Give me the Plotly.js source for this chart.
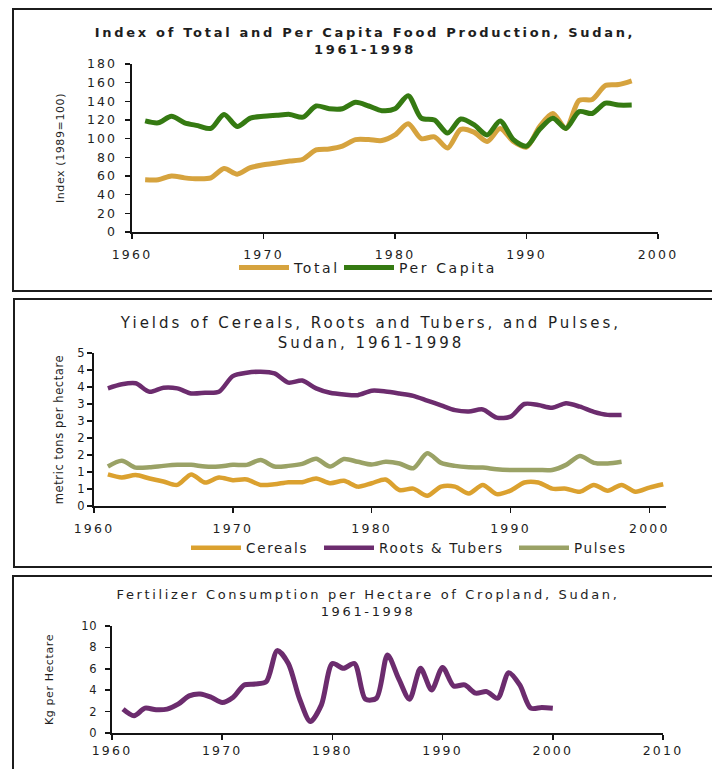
<!DOCTYPE html>
<html>
<head>
<meta charset="utf-8">
<script src="https://cdn.plot.ly/plotly-3.0.1.min.js"></script>
<style>
  html, body { margin:0; padding:0; background:#fff; width:712px; height:769px; overflow:hidden; }
  .frame { position:absolute; border:2px solid #1c1c1c; box-sizing:border-box; }
  .plot { position:absolute; left:0; width:712px; }
  #p1 .gtitle { letter-spacing:2.7px; }
  #p2 .gtitle { letter-spacing:3.0px; }
  #p3 .gtitle { letter-spacing:2.65px; }
  .xtick text { letter-spacing:2.2px; }
  #p1 .ytick text { letter-spacing:2.0px; }
  #p2 .ytick text, #p3 .ytick text { letter-spacing:0.6px; }
  #p1 [class^="legend"] text { letter-spacing:2.6px !important; }
  #p2 [class^="legend"] text { letter-spacing:1.7px !important; }
  [class^="legend"], [class^="legend"] .scrollbox { clip-path:none !important; }
  .ytitle { letter-spacing:0.6px; }
</style>
</head>
<body>
<div class="frame" style="left:12px; top:8px; width:720px; height:284px;"></div>
<div class="frame" style="left:13px; top:298px; width:720px; height:270px;"></div>
<div class="frame" style="left:12px; top:575px; width:720px; height:230px;"></div>
<div id="p1" class="plot" style="top:0px; height:295px;"></div>
<div id="p2" class="plot" style="top:296px; height:300px;"></div>
<div id="p3" class="plot" style="top:573px; height:196px;"></div>
<script>
// ---- Panel 1: Index of total and per capita food production ----
const years1 = [1961,1962,1963,1964,1965,1966,1967,1968,1969,1970,1971,1972,1973,1974,1975,1976,1977,1978,1979,1980,1981,1982,1983,1984,1985,1986,1987,1988,1989,1990,1991,1992,1993,1994,1995,1996,1997,1998];
const totalIndex = [56,56,60,58,57,58,68,62,69,72,74,76,78,88,89,92,99,99,98,104,116,100,102,90,110,107,97,111,97,91,113,127,111,141,142,157,158,162];
const perCapitaIndex = [119,117,124,117,114,111,126,113,122,124,125,126,123,135,132,132,139,135,130,132,146,122,120,106,121,115,104,119,99,92,110,122,111,129,127,138,136,136];
const xTicks1 = [1960,1970,1980,1990,2000];
const yTicks1 = [0,20,40,60,80,100,120,140,160,180];

// ---- Panel 2: Yields ----
const years2 = [1961,1962,1963,1964,1965,1966,1967,1968,1969,1970,1971,1972,1973,1974,1975,1976,1977,1978,1979,1980,1981,1982,1983,1984,1985,1986,1987,1988,1989,1990,1991,1992,1993,1994,1995,1996,1997,1998];
const yearsCereals = [1961,1962,1963,1964,1965,1966,1967,1968,1969,1970,1971,1972,1973,1974,1975,1976,1977,1978,1979,1980,1981,1982,1983,1984,1985,1986,1987,1988,1989,1990,1991,1992,1993,1994,1995,1996,1997,1998,1999,2000,2001];
const cereals = [0.93,0.84,0.91,0.81,0.72,0.62,0.93,0.69,0.84,0.76,0.78,0.62,0.64,0.70,0.70,0.81,0.67,0.74,0.57,0.67,0.78,0.47,0.51,0.30,0.57,0.57,0.37,0.62,0.35,0.45,0.69,0.69,0.51,0.51,0.42,0.62,0.45,0.62,0.42,0.54,0.64];
const rootsTubers = [3.46,3.58,3.61,3.36,3.48,3.46,3.31,3.33,3.36,3.82,3.92,3.95,3.90,3.63,3.69,3.46,3.33,3.28,3.26,3.39,3.37,3.31,3.24,3.10,2.96,2.82,2.78,2.84,2.60,2.63,3.00,2.97,2.89,3.02,2.92,2.77,2.68,2.68];
const pulses = [1.16,1.33,1.13,1.14,1.18,1.21,1.21,1.16,1.16,1.21,1.21,1.35,1.16,1.18,1.24,1.39,1.16,1.38,1.30,1.22,1.30,1.25,1.11,1.55,1.27,1.18,1.14,1.13,1.08,1.06,1.06,1.06,1.06,1.21,1.47,1.27,1.25,1.30];
const xTicks2 = [1960,1970,1980,1990,2000];
const yTickVals2 = [0,0.5,1,1.5,2,2.5,3,3.5,4,4.5];
const yTickText2 = ["0","1","1","2","2","3","3","4","4","5"];

// ---- Panel 3: Fertilizer ----
const years3 = [1961,1962,1963,1964,1965,1966,1967,1968,1969,1970,1971,1972,1973,1974,1975,1976,1977,1978,1979,1980,1981,1982,1983,1984,1985,1986,1987,1988,1989,1990,1991,1992,1993,1994,1995,1996,1997,1998,1999,2000];
const fertilizer = [2.23,1.61,2.32,2.17,2.23,2.69,3.47,3.65,3.34,2.85,3.34,4.49,4.58,4.8,7.7,6.5,3.25,1.08,2.63,6.5,6.04,6.5,3.16,3.25,7.3,5.1,3.16,6.04,4.02,6.13,4.4,4.49,3.72,3.87,3.25,5.63,4.49,2.32,2.38,2.32];
const xTicks3 = [1960,1970,1980,1990,2000,2010];
const yTicks3 = [0,2,4,6,8,10];

const FONT = 'DejaVu Sans, Arial, sans-serif';
const TXT = '#1e1e1e';
const cfg = {staticPlot:true, displayModeBar:false};

function axisBase(extra) {
  return Object.assign({
    showline:true, linecolor:'#141414', linewidth:1.6,
    ticks:'outside', ticklen:5, tickwidth:1.6, tickcolor:'#141414',
    showgrid:false, zeroline:false, fixedrange:true,
    tickfont:{family:FONT, size:12, color:TXT}, automargin:false
  }, extra);
}
// px, py: position of the legend within the plot div
function legendAt(px, l, w, py, plotBottom, h, size) {
  return {orientation:'v', x:(px - l) / w, xanchor:'left', y:(plotBottom - py) / h, yanchor:'middle',
    font:{family:FONT, size:size, color:TXT}, itemwidth:50, bgcolor:'rgba(0,0,0,0)', borderwidth:0};
}

// Panel 1 (plot area: x 132..658, y 64..233)
Plotly.newPlot('p1', [
  {x:years1, y:totalIndex, name:'Total', type:'scatter', mode:'lines', legend:'legend',
   line:{color:'#D6A33E', width:5, shape:'spline', smoothing:0.8}},
  {x:years1, y:perCapitaIndex, name:'Per Capita', type:'scatter', mode:'lines', legend:'legend2',
   line:{color:'#357A12', width:5, shape:'spline', smoothing:0.8}}
], {
  width:712, height:295,
  margin:{l:132, r:54, t:64, b:62, pad:0},
  paper_bgcolor:'rgba(0,0,0,0)', plot_bgcolor:'rgba(0,0,0,0)',
  font:{family:FONT, color:TXT},
  title:{text:'Index of Total and Per Capita Food Production, Sudan,<br>1961-1998',
    font:{family:FONT, size:13, weight:'bold', color:TXT},
    xref:'container', x:365/712, xanchor:'center', yref:'container', y:1-37/295, yanchor:'top'},
  xaxis:axisBase({range:[1960,2000], tickvals:xTicks1, ticklabelstandoff:5, tickfont:{family:FONT, size:12.5, color:TXT}}),
  yaxis:axisBase({range:[0,180], tickvals:yTicks1, ticklabelstandoff:6, tickfont:{family:FONT, size:12.5, color:TXT},
    title:{text:'Index (1989=100)', standoff:26, font:{family:FONT, size:11, color:TXT}}}),
  showlegend:true,
  legend:legendAt(234, 132, 526, 268, 233, 169, 14),
  legend2:legendAt(339, 132, 526, 268, 233, 169, 14)
}, cfg);

// Panel 2 (div top 296; plot area: x 94..666, y 57..210 within div)
Plotly.newPlot('p2', [
  {x:yearsCereals, y:cereals, name:'Cereals', type:'scatter', mode:'lines', legend:'legend',
   line:{color:'#DBA12F', width:4.5, shape:'spline', smoothing:0.8}},
  {x:years2, y:rootsTubers, name:'Roots & Tubers', type:'scatter', mode:'lines', legend:'legend2',
   line:{color:'#6C2C6E', width:4.5, shape:'spline', smoothing:0.8}},
  {x:years2, y:pulses, name:'Pulses', type:'scatter', mode:'lines', legend:'legend3',
   line:{color:'#9AA266', width:4.5, shape:'spline', smoothing:0.8}}
], {
  width:712, height:300,
  margin:{l:94, r:46, t:57, b:90, pad:0},
  paper_bgcolor:'rgba(0,0,0,0)', plot_bgcolor:'rgba(0,0,0,0)',
  font:{family:FONT, color:TXT},
  title:{text:'Yields of Cereals, Roots and Tubers, and Pulses,<br>Sudan, 1961-1998',
    font:{family:FONT, size:15, color:TXT},
    xref:'container', x:371/712, xanchor:'center', yref:'container', y:1-32/300, yanchor:'top'},
  xaxis:axisBase({range:[1960,2001.2], tickvals:xTicks2, ticklabelstandoff:5, tickfont:{family:FONT, size:12.5, color:TXT}}),
  yaxis:axisBase({range:[0,4.5], tickvals:yTickVals2, ticktext:yTickText2, tickfont:{family:FONT, size:11.5, color:TXT},
    title:{text:'metric tons per hectare', standoff:12, font:{family:FONT, size:11.5, color:TXT}}}),
  showlegend:true,
  legend:legendAt(186, 94, 572, 252, 210, 153, 13.5),
  legend2:legendAt(319, 94, 572, 252, 210, 153, 13.5),
  legend3:legendAt(514, 94, 572, 252, 210, 153, 13.5)
}, cfg);

// Panel 3 (plot area: x 112..663, y 53..160 within div)
Plotly.newPlot('p3', [
  {x:years3, y:fertilizer, name:'Fertilizer', type:'scatter', mode:'lines',
   line:{color:'#6C2C6E', width:5, shape:'spline', smoothing:0.8}}
], {
  width:712, height:196,
  margin:{l:112, r:49, t:53, b:36, pad:0},
  paper_bgcolor:'rgba(0,0,0,0)', plot_bgcolor:'rgba(0,0,0,0)',
  font:{family:FONT, color:TXT},
  title:{text:'Fertilizer Consumption per Hectare of Cropland, Sudan,<br>1961-1998',
    font:{family:FONT, size:13, color:TXT},
    xref:'container', x:368/712, xanchor:'center', yref:'container', y:1-26/196, yanchor:'top'},
  xaxis:axisBase({range:[1960,2010], tickvals:xTicks3, tickfont:{family:FONT, size:12.5, color:TXT}}),
  yaxis:axisBase({range:[0,10], tickvals:yTicks3, ticklabelstandoff:6, tickfont:{family:FONT, size:11.5, color:TXT},
    title:{text:'Kg per Hectare', standoff:26, font:{family:FONT, size:11, color:TXT}}}),
  showlegend:false
}, cfg);
</script>
</body>
</html>
